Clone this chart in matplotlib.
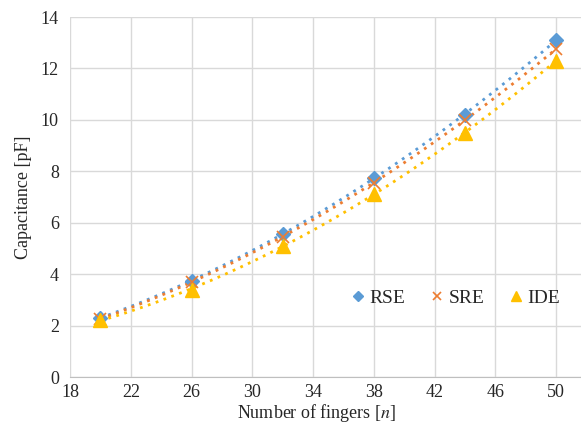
import numpy as np
import matplotlib
matplotlib.use("Agg")
import matplotlib.pyplot as plt

fingers = [20, 26, 32, 38, 44, 50]
rse = [2.3, 3.75, 5.55, 7.75, 10.2, 13.1]
sre = [2.25, 3.7, 5.45, 7.55, 10.0, 12.75]
ide = [2.2, 3.4, 5.1, 7.1, 9.5, 12.3]
xticks = [18, 22, 26, 30, 34, 38, 42, 46, 50]
yticks = [0, 2, 4, 6, 8, 10, 12, 14]

plt.rcParams['font.family'] = ['Liberation Serif', 'DejaVu Serif']
plt.rcParams['mathtext.fontset'] = 'stix'

fig = plt.figure(figsize=(5.81, 4.28), dpi=100)
ax = fig.add_axes([70/581, 1 - 377/428, 1 - 70/581, (377 - 17)/428])

series = [
    ("RSE", rse, "#5B9BD5", "D", 7, dict()),
    ("SRE", sre, "#ED7D31", "x", 8, dict(markeredgewidth=1.2)),
    ("IDE", ide, "#FFC000", "^", 10, dict()),
]
xf = np.linspace(fingers[0], fingers[-1], 200)
for name, vals, col, mk, ms, kw in series:
    c = np.polyfit(fingers, vals, 2)
    ax.plot(xf, np.polyval(c, xf), linestyle=(0, (1, 2)), color=col, lw=2.0, zorder=2)
for name, vals, col, mk, ms, kw in series:
    ax.plot(fingers, vals, linestyle="none", marker=mk, color=col, markersize=ms,
            label=name, zorder=3, **kw)

ax.set_xlim(18, 18 + (581 - 70) / (556 - 70) * 32)
ax.set_ylim(0, 14)
ax.set_xticks(xticks)
ax.set_yticks(yticks)
ax.grid(True, color="#D9D9D9", lw=1.0)
ax.set_axisbelow(True)
for s in ["top", "right", "left"]:
    ax.spines[s].set_visible(False)
ax.spines["bottom"].set_color("#BFBFBF")
ax.tick_params(axis="x", length=0, labelsize=13, colors="#262626", pad=5)
ax.tick_params(axis="y", length=0, labelsize=13, colors="#262626", pad=8)
ax.set_xlabel("Number of fingers [$n$]", fontsize=13, color="#262626")
ax.xaxis.set_label_coords(0.483, -0.07)
ax.set_ylabel("Capacitance [pF]", fontsize=13, labelpad=6, color="#262626")

leg = ax.legend(loc="center", bbox_to_anchor=(0.75, 0.22), ncol=3, frameon=False,
                fontsize=14, handletextpad=0.0, columnspacing=1.0, handlelength=1.2,
                markerscale=0.75)
for t in leg.get_texts():
    t.set_color("#262626")

fig.savefig("out.png", dpi=100)
